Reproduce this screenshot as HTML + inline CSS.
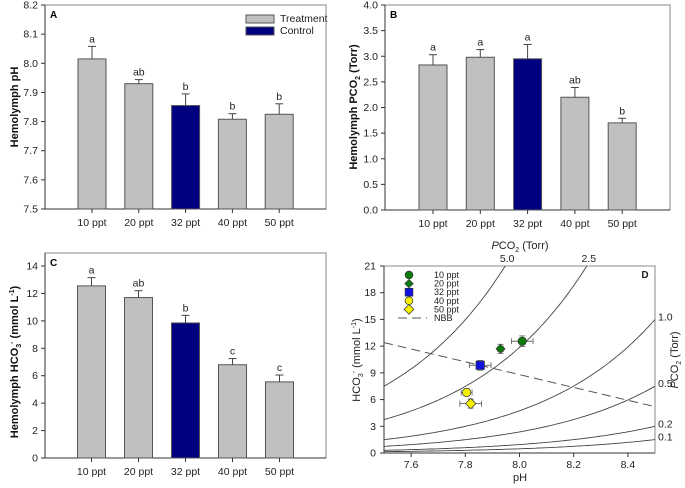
<!DOCTYPE html>
<html><head><meta charset="utf-8"><style>
body{margin:0;background:#fff}
svg{display:block;font-family:"Liberation Sans",Arial,sans-serif}
</style></head><body>
<svg id="c" width="685" height="488" viewBox="0 0 685 488"></svg>
<script>
const cats=["10 ppt","20 ppt","32 ppt","40 ppt","50 ppt"];
const phVals=[8.015,7.93,7.855,7.808,7.825];
const phErr=[0.043,0.014,0.04,0.019,0.036];
const phLet=["a","ab","b","b","b"];
const pco2Vals=[2.83,2.98,2.95,2.2,1.7];
const pco2Err=[0.2,0.15,0.28,0.19,0.09];
const pco2Let=["a","a","a","ab","b"];
const hco3Vals=[12.55,11.7,9.85,6.8,5.55];
const hco3Err=[0.6,0.5,0.55,0.45,0.5];
const hco3Let=["a","ab","b","c","c"];
const dPH=[8.01,7.93,7.855,7.805,7.82];
const dPHerr=[0.04,0.01,0.04,0.02,0.04];
const dHCO3=[12.55,11.7,9.85,6.8,5.55];
const dHCO3err=[0.6,0.5,0.55,0.4,0.5];
const isoPCO2=[5.0,2.5,1.0,0.5,0.2,0.1];
const nbbPH=[7.5,8.5];
const nbbHCO3=[12.4,5.2];
const aTicks=[7.5,7.6,7.7,7.8,7.9,8.0,8.1,8.2];
const bTicks=[0,0.5,1,1.5,2,2.5,3,3.5,4];
const cTicks=[0,2,4,6,8,10,12,14];
const dXTicks=[7.6,7.8,8.0,8.2,8.4];
const dYTicks=[0,3,6,9,12,15,18,21];

const S=document.getElementById('c');const NS='http://www.w3.org/2000/svg';
function el(t,a,txt){const e=document.createElementNS(NS,t);for(const k in a)e.setAttribute(k,a[k]);if(txt!==undefined)e.textContent=txt;S.appendChild(e);return e;}
function tx(x,y,s,o){return el('text',Object.assign({x:x,y:y,'font-size':10.5,fill:'#222','text-anchor':'middle'},o||{}),s);}

function barPanel(P,vals,errs,lets,ticks,fmt,name){
  const sy=v=>P.y1-(v-P.min)/(P.max-P.min)*(P.y1-P.y0);
  const f=el('rect',{x:P.x0,y:P.y0-P.pad,width:P.x1-P.x0,height:P.y1-P.y0+P.pad,fill:'none',stroke:'#888','stroke-width':1});
  
  el('line',{x1:P.x0,y1:P.y0-P.pad,x2:P.x0,y2:P.y1,stroke:'#333'});
  el('line',{x1:P.x0,y1:P.y1,x2:P.x1,y2:P.y1,stroke:'#333'});
  ticks.forEach(t=>{const y=sy(t);el('line',{x1:P.x0-4,y1:y,x2:P.x0,y2:y,stroke:'#333'});
    const l=tx(P.x0-7,y+3.5,fmt(t),{'text-anchor':'end'});});
  vals.forEach((v,i)=>{const cx=P.c0+i*P.step;const top=sy(v);
    const b=el('rect',{x:cx-14,y:top,width:28,height:P.y1-top,fill:i==2?'#000080':'#c0c0c0',stroke:'#555','stroke-width':1});
    
    const ey=sy(v+errs[i]);el('line',{x1:cx,y1:top,x2:cx,y2:ey,stroke:'#444'});el('line',{x1:cx-4,y1:ey,x2:cx+4,y2:ey,stroke:'#444'});
    const lt=tx(cx,ey-4,lets[i]);
    el('line',{x1:cx,y1:P.y1,x2:cx,y2:P.y1+4,stroke:'#333'});
    const c=tx(cx,P.y1+17,cats[i]);});
  const pl=el('text',{x:P.x0+5,y:P.y0-P.pad+13,'font-size':10,'font-weight':'bold'},P.lab);
  
}
barPanel({x0:45,x1:326,y0:5,y1:209,min:7.5,max:8.2,pad:0,c0:92,step:46.8,lab:'A'},phVals,phErr,phLet,aTicks,t=>t.toFixed(1),'panel-a');
barPanel({x0:385,x1:670,y0:5,y1:210,min:0,max:4,pad:0,c0:433,step:47.3,lab:'B'},pco2Vals,pco2Err,pco2Let,bTicks,t=>t.toFixed(1),'panel-b');
barPanel({x0:45,x1:326,y0:266,y1:458,min:0,max:14,pad:13,c0:91.5,step:47,lab:'C'},hco3Vals,hco3Err,hco3Let,cTicks,t=>String(t),'panel-c');

let lg=el('rect',{x:246,y:15,width:28,height:8,fill:'#c0c0c0',stroke:'#555'});
tx(280,22,'Treatment',{'text-anchor':'start','font-size':10.5});
lg=el('rect',{x:246,y:27,width:28,height:8,fill:'#000080',stroke:'#555'});
tx(280,34,'Control',{'text-anchor':'start','font-size':10.5});

let yt=el('text',{transform:'translate(18,107) rotate(-90)','font-size':11,'font-weight':'bold','text-anchor':'middle',fill:'#111'},'Hemolymph pH');

yt=el('text',{transform:'translate(357,107) rotate(-90)','font-size':11,'font-weight':'bold','text-anchor':'middle',fill:'#111'});
yt.innerHTML='Hemolymph PCO<tspan font-size="7" dy="3">2</tspan><tspan dy="-3"> (Torr)</tspan>';

yt=el('text',{transform:'translate(18,362) rotate(-90)','font-size':11,'font-weight':'bold','text-anchor':'middle',fill:'#111'});
yt.innerHTML='Hemolymph HCO<tspan font-size="7" dy="3">3</tspan><tspan font-size="7" dy="-7">-</tspan><tspan dy="4"> (mmol L</tspan><tspan font-size="7" dy="-4">-1</tspan><tspan dy="4">)</tspan>';


const D={x0:384,x1:655,y0:266,y1:453};
const dx=v=>D.x0+(v-7.5)/1.0*(D.x1-D.x0);
const dy=v=>D.y1-v/21*(D.y1-D.y0);
let fr=el('rect',{x:D.x0,y:D.y0,width:D.x1-D.x0,height:D.y1-D.y0,fill:'none',stroke:'#888'});

el('line',{x1:D.x0,y1:D.y0,x2:D.x0,y2:D.y1,stroke:'#333'});el('line',{x1:D.x0,y1:D.y1,x2:D.x1,y2:D.y1,stroke:'#333'});
dYTicks.forEach(t=>{el('line',{x1:D.x0-4,y1:dy(t),x2:D.x0,y2:dy(t),stroke:'#333'});const l=tx(D.x0-8,dy(t)+3.5,String(t),{'text-anchor':'end'});});
dXTicks.forEach(t=>{el('line',{x1:dx(t),y1:D.y1,x2:dx(t),y2:D.y1+4,stroke:'#333'});const l=tx(dx(t),D.y1+15,t.toFixed(1));});
const defs=el('defs',{});const cp=document.createElementNS(NS,'clipPath');cp.setAttribute('id','dc');const cr=document.createElementNS(NS,'rect');
cr.setAttribute('x',D.x0);cr.setAttribute('y',D.y0);cr.setAttribute('width',D.x1-D.x0);cr.setAttribute('height',D.y1-D.y0);cp.appendChild(cr);defs.appendChild(cp);
const K=1.5/Math.pow(10,7.5);
isoPCO2.forEach(p=>{let d='';for(let i=0;i<=100;i++){const ph=7.5+i/100;const h=K*p*Math.pow(10,ph);d+=(i?'L':'M')+dx(ph).toFixed(1)+','+dy(h).toFixed(1);}
  const pa=el('path',{d:d,fill:'none',stroke:'#444','stroke-width':0.9,'clip-path':'url(#dc)'});
  
  const hEnd=K*p*Math.pow(10,8.5);
  if(hEnd<=21){const l=tx(D.x1+3,dy(hEnd)+1,p.toFixed(1),{'text-anchor':'start'});}
  else{const ph=Math.log10(21/(K*p));const l=tx(dx(ph)+2,D.y0-4,p.toFixed(1));}
});
const nb=el('line',{x1:dx(nbbPH[0]),y1:dy(nbbHCO3[0]),x2:dx(nbbPH[1]),y2:dy(nbbHCO3[1]),stroke:'#555','stroke-dasharray':'9,5','stroke-width':1});

const cols=['#0a7a0a','#0a7a0a','#1010e0','#f5f000','#f5f000'];const shp=['c','d','s','c','d'];
function mark(x,y,i,sz){const sh=shp[i];let m;
  if(sh=='c')m=el('circle',{cx:x,cy:y,r:sz,fill:cols[i],stroke:'#333','stroke-width':0.7});
  else if(sh=='s')m=el('rect',{x:x-sz,y:y-sz,width:2*sz,height:2*sz,fill:cols[i],stroke:'#333','stroke-width':0.7});
  else m=el('polygon',{points:`${x},${y-sz-1} ${x+sz+1},${y} ${x},${y+sz+1} ${x-sz-1},${y}`,fill:cols[i],stroke:'#333','stroke-width':0.7});
  return m;}
dPH.forEach((ph,i)=>{const x=dx(ph),y=dy(dHCO3[i]);const xl=dx(ph-dPHerr[i]),xr=dx(ph+dPHerr[i]),yt2=dy(dHCO3[i]+dHCO3err[i]),yb=dy(dHCO3[i]-dHCO3err[i]);
  el('path',{d:`M${xl},${y}H${xr}M${xl},${y-3}V${y+3}M${xr},${y-3}V${y+3}M${x},${yt2}V${yb}M${x-3},${yt2}H${x+3}M${x-3},${yb}H${x+3}`,stroke:'#666',fill:'none','stroke-width':0.9});
  const m=mark(x,y,i,i==1?3.5:4.2);});
cats.forEach((c,i)=>{const y=275+i*8.6;const m=mark(409,y,i,i==1?3.2:3.9);
  const l=tx(434,y+3,c,{'text-anchor':'start','font-size':9});});
el('line',{x1:398,y1:318,x2:427,y2:318,stroke:'#555','stroke-dasharray':'9,5'});
let nl=tx(434,321,'NBB',{'text-anchor':'start','font-size':9});
tx(D.x1-10,278,'D',{'font-weight':'bold','font-size':10});
let xt=tx(520,481,'pH',{'font-size':11});
xt=el('text',{x:520,y:249,'font-size':11,'text-anchor':'middle',fill:'#222'});xt.innerHTML='<tspan font-style="italic">P</tspan>CO<tspan font-size="7" dy="3">2</tspan><tspan dy="-3"> (Torr)</tspan>';

xt=el('text',{transform:'translate(678,360) rotate(-90)','font-size':11,'text-anchor':'middle',fill:'#222'});xt.innerHTML='<tspan font-style="italic">P</tspan>CO<tspan font-size="7" dy="3">2</tspan><tspan dy="-3"> (Torr)</tspan>';

xt=el('text',{transform:'translate(360,360) rotate(-90)','font-size':11,'text-anchor':'middle',fill:'#222'});
xt.innerHTML='HCO<tspan font-size="7" dy="3">3</tspan><tspan font-size="7" dy="-7">-</tspan><tspan dy="4"> (mmol L</tspan><tspan font-size="7" dy="-4">-1</tspan><tspan dy="4">)</tspan>';

</script>
</body></html>
